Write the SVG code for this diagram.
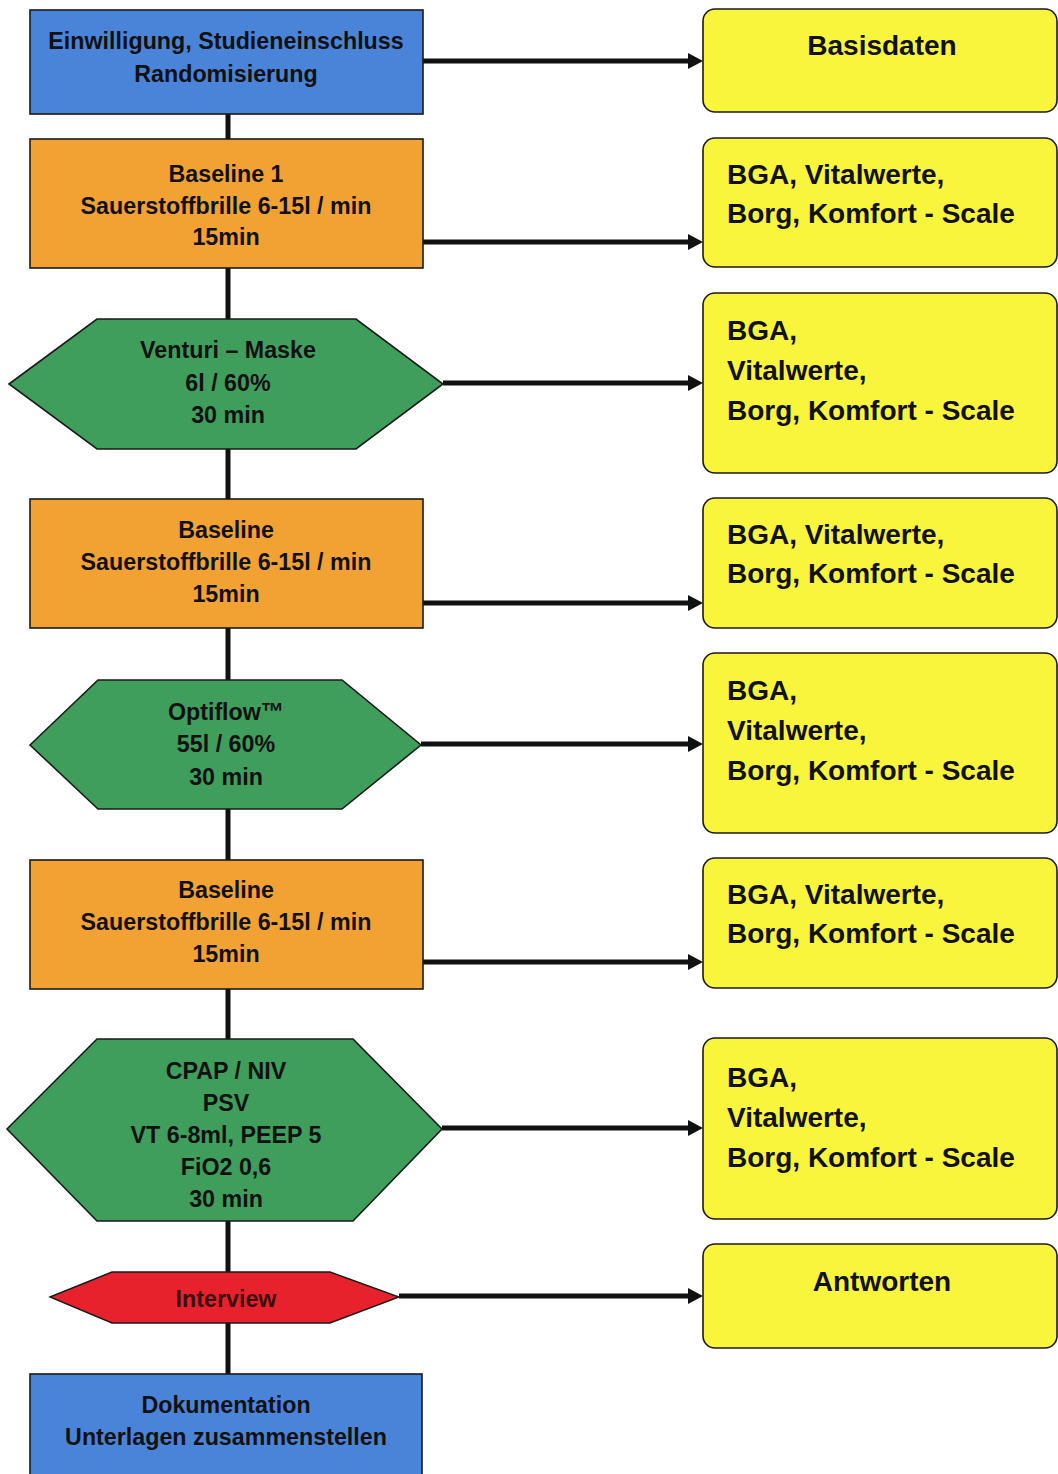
<svg xmlns="http://www.w3.org/2000/svg" width="1058" height="1474" viewBox="0 0 1058 1474">
<defs>
<style>
.blue{fill:#4a84d8;stroke:#1a1a1a;stroke-width:1.6}
.orange{fill:#f2a232;stroke:#1a1a1a;stroke-width:1.6}
.green{fill:#3f9e5c;stroke:#1a1a1a;stroke-width:1.6}
.red{fill:#e8222c;stroke:#1a1a1a;stroke-width:1.4}
.yellow{fill:#f9f53c;stroke:#1a1a1a;stroke-width:1.6}
.lt{font-family:"Liberation Sans",Arial,sans-serif;font-weight:bold;font-size:24.5px;fill:#111;text-anchor:middle}
.rt{font-family:"Liberation Sans",Arial,sans-serif;font-weight:bold;font-size:28px;fill:#111}
.rc{text-anchor:middle}
.vline{stroke:#111;stroke-width:5;fill:none}
.arrow{stroke:#111;stroke-width:5;fill:none;marker-end:url(#ah)}
</style>
<marker id="ah" markerUnits="userSpaceOnUse" markerWidth="15" markerHeight="16" viewBox="0 0 15 16" refX="0" refY="8" orient="auto" overflow="visible">
<path d="M0,0 L15,8 L0,16 z" fill="#111"/>
</marker>
</defs>
<rect width="1058" height="1474" fill="#ffffff"/>

<g id="connectors">
<line class="vline" x1="228" y1="114" x2="228" y2="139"/>
<line class="vline" x1="228" y1="268" x2="228" y2="319"/>
<line class="vline" x1="228" y1="449" x2="228" y2="499"/>
<line class="vline" x1="228" y1="628" x2="228" y2="680"/>
<line class="vline" x1="228" y1="809" x2="228" y2="860"/>
<line class="vline" x1="228" y1="989" x2="228" y2="1039"/>
<line class="vline" x1="228" y1="1221" x2="228" y2="1272"/>
<line class="vline" x1="228" y1="1323" x2="228" y2="1374"/>
<line class="arrow" x1="423" y1="61" x2="688" y2="61"/>
<line class="arrow" x1="423" y1="242" x2="688" y2="242"/>
<line class="arrow" x1="443" y1="383" x2="688" y2="383"/>
<line class="arrow" x1="423" y1="603" x2="688" y2="603"/>
<line class="arrow" x1="421" y1="744" x2="688" y2="744"/>
<line class="arrow" x1="423" y1="962" x2="688" y2="962"/>
<line class="arrow" x1="442" y1="1128" x2="688" y2="1128"/>
<line class="arrow" x1="399" y1="1296" x2="688" y2="1296"/>
</g>

<g id="n-einwilligung">
<rect class="blue" x="30" y="10" width="393" height="104"/>
<g transform="translate(226,0) scale(0.95,1)">
<text class="lt" x="0" y="49">Einwilligung, Studieneinschluss</text>
<text class="lt" x="0" y="82">Randomisierung</text>
</g>
</g>

<g id="n-baseline1">
<rect class="orange" x="30" y="139" width="393" height="129"/>
<g transform="translate(226,0) scale(0.95,1)">
<text class="lt" x="0" y="182">Baseline 1</text>
<text class="lt" x="0" y="214">Sauerstoffbrille 6-15l / min</text>
<text class="lt" x="0" y="245">15min</text>
</g>
</g>

<g id="n-venturi">
<polygon class="green" points="9,384 97,319 356,319 443,384 356,449 97,449"/>
<g transform="translate(228,0) scale(0.95,1)">
<text class="lt" x="0" y="358">Venturi – Maske</text>
<text class="lt" x="0" y="391">6l / 60%</text>
<text class="lt" x="0" y="423">30 min</text>
</g>
</g>

<g id="n-baseline2">
<rect class="orange" x="30" y="499" width="393" height="129"/>
<g transform="translate(226,0) scale(0.95,1)">
<text class="lt" x="0" y="538">Baseline</text>
<text class="lt" x="0" y="570">Sauerstoffbrille 6-15l / min</text>
<text class="lt" x="0" y="602">15min</text>
</g>
</g>

<g id="n-optiflow">
<polygon class="green" points="30,745 98,680 342,680 421,745 342,809 98,809"/>
<g transform="translate(226,0) scale(0.95,1)">
<text class="lt" x="0" y="720">Optiflow™</text>
<text class="lt" x="0" y="752">55l / 60%</text>
<text class="lt" x="0" y="785">30 min</text>
</g>
</g>

<g id="n-baseline3">
<rect class="orange" x="30" y="860" width="393" height="129"/>
<g transform="translate(226,0) scale(0.95,1)">
<text class="lt" x="0" y="898">Baseline</text>
<text class="lt" x="0" y="930">Sauerstoffbrille 6-15l / min</text>
<text class="lt" x="0" y="962">15min</text>
</g>
</g>

<g id="n-cpap">
<polygon class="green" points="7,1129 97,1039 353,1039 442,1129 353,1221 97,1221"/>
<g transform="translate(226,0) scale(0.95,1)">
<text class="lt" x="0" y="1079">CPAP / NIV</text>
<text class="lt" x="0" y="1111">PSV</text>
<text class="lt" x="0" y="1143">VT 6-8ml, PEEP 5</text>
<text class="lt" x="0" y="1175">FiO2 0,6</text>
<text class="lt" x="0" y="1207">30 min</text>
</g>
</g>

<g id="n-interview">
<polygon class="red" points="50,1297 112,1272 330,1272 399,1297 330,1323 112,1323"/>
<g transform="translate(226,0) scale(0.95,1)">
<text class="lt" x="0" y="1307" style="fill:#3a0c0c">Interview</text>
</g>
</g>

<g id="n-dokumentation">
<rect class="blue" x="30" y="1374" width="392" height="110"/>
<g transform="translate(226,0) scale(0.95,1)">
<text class="lt" x="0" y="1413">Dokumentation</text>
<text class="lt" x="0" y="1445">Unterlagen zusammenstellen</text>
</g>
</g>

<g id="r-basisdaten">
<rect class="yellow" x="703" y="9" width="354" height="103" rx="12"/>
<text class="rt rc" x="882" y="55">Basisdaten</text>
</g>

<g id="r-baseline1">
<rect class="yellow" x="703" y="138" width="354" height="129" rx="12"/>
<text class="rt" x="727" y="184">BGA, Vitalwerte,</text>
<text class="rt" x="727" y="223">Borg, Komfort - Scale</text>
</g>

<g id="r-venturi">
<rect class="yellow" x="703" y="293" width="354" height="180" rx="12"/>
<text class="rt" x="727" y="340">BGA,</text>
<text class="rt" x="727" y="380">Vitalwerte,</text>
<text class="rt" x="727" y="420">Borg, Komfort - Scale</text>
</g>

<g id="r-baseline2">
<rect class="yellow" x="703" y="498" width="354" height="130" rx="12"/>
<text class="rt" x="727" y="544">BGA, Vitalwerte,</text>
<text class="rt" x="727" y="583">Borg, Komfort - Scale</text>
</g>

<g id="r-optiflow">
<rect class="yellow" x="703" y="653" width="354" height="180" rx="12"/>
<text class="rt" x="727" y="700">BGA,</text>
<text class="rt" x="727" y="740">Vitalwerte,</text>
<text class="rt" x="727" y="780">Borg, Komfort - Scale</text>
</g>

<g id="r-baseline3">
<rect class="yellow" x="703" y="858" width="354" height="130" rx="12"/>
<text class="rt" x="727" y="904">BGA, Vitalwerte,</text>
<text class="rt" x="727" y="943">Borg, Komfort - Scale</text>
</g>

<g id="r-cpap">
<rect class="yellow" x="703" y="1038" width="354" height="181" rx="12"/>
<text class="rt" x="727" y="1087">BGA,</text>
<text class="rt" x="727" y="1127">Vitalwerte,</text>
<text class="rt" x="727" y="1167">Borg, Komfort - Scale</text>
</g>

<g id="r-antworten">
<rect class="yellow" x="703" y="1244" width="354" height="104" rx="12"/>
<text class="rt rc" x="882" y="1291">Antworten</text>
</g>
</svg>
